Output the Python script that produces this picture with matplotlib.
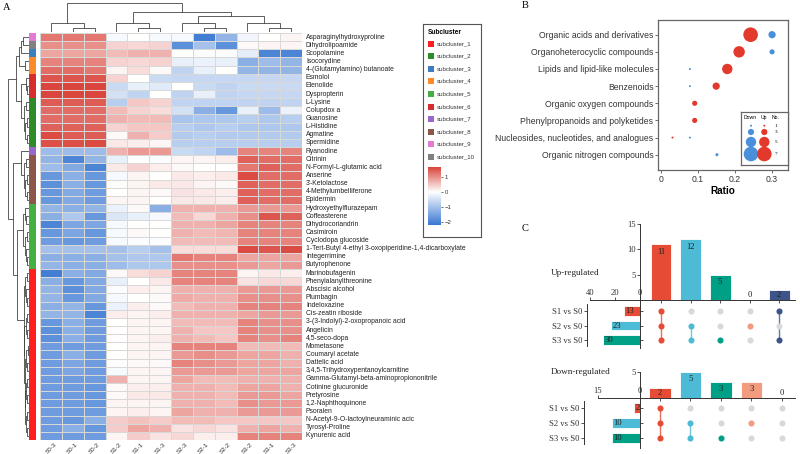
import numpy as np
import matplotlib
matplotlib.use("Agg")
import matplotlib.pyplot as plt
from matplotlib.colors import LinearSegmentedColormap, ListedColormap, Normalize
from matplotlib.patches import Rectangle

plt.rcParams['font.family'] = ['Liberation Sans', 'DejaVu Sans']
SERIF = ['Liberation Serif', 'DejaVu Serif']

# ---------------- Panel A data ----------------
samples = ['S0-3', 'S0-1', 'S0-2', 'S1-2', 'S1-1', 'S1-3',
           'S2-3', 'S2-1', 'S2-2', 'S3-2', 'S3-1', 'S3-3']
metabolites = [
    'Asparaginylhydroxyproline', 'Dihydrolipoamide', 'Scopolamine', 'Isocorydine',
    '4-(Glutamylamino) butanoate', 'Esmolol', 'Elenolide', 'Dyspropterin', 'L-Lysine',
    'Colupdox a', 'Guanosine', 'L-Histidine', 'Agmatine', 'Spermidine', 'Ryanodine',
    'Citrinin', 'N-Formyl-L-glutamic acid', 'Anserine', "3'-Ketolactose",
    '4-Methylumbelliferone', 'Epidermin', 'Hydroxyethylflurazepam', 'Coffeasterene',
    'Dihydrocoriandrin', 'Casimiroin', 'Cyclodopa glucoside',
    '1-Tert-Butyl 4-ethyl 3-oxopiperidine-1,4-dicarboxylate', 'Integerrimine',
    'Butyrophenone', 'Marinobufagenin', 'Phenylalanylthreonine', 'Abscisic alcohol',
    'Plumbagin', 'Indeloxazine', 'Cis-zeatin riboside',
    '3-(3-Indolyl)-2-oxopropanoic acid', 'Angelicin', '4,5-seco-dopa', 'Mometasone',
    'Coumaryl acetate', 'Dattelic acid', '3,4,5-Trihydroxypentanoylcarnitine',
    'Gamma-Glutamyl-beta-aminopropiononitrile', 'Cotinine glucuronide', 'Pretyrosine',
    '1,2-Naphthoquinone', 'Psoralen', 'N-Acetyl-9-O-lactoylneuraminic acic',
    'Tyrosyl-Proline', 'Kynurenic acid']

zscores = [
    [1.2, 1.2, 1.2, -0.1, 0.0, -0.1, -0.1, -2.1, -1.2, -0.15, 0.0, 0.1],
    [1.0, 1.0, 1.0, 0.4, 0.35, 0.4, -1.8, -1.0, -1.8, 0.05, 0.1, 0.1],
    [0.8, 0.8, 0.8, 0.6, 0.7, 0.7, 0.0, -0.05, -0.05, -0.3, -2.0, -2.0],
    [1.1, 1.1, 1.1, 0.4, 0.35, 0.4, -0.25, -0.2, -0.25, -1.3, -1.1, -1.2],
    [1.3, 1.3, 1.2, 0.1, 0.3, 0.05, -0.7, -0.25, 0.0, -1.2, -1.2, -1.2],
    [1.5, 1.5, 1.5, 0.4, 0.0, -0.6, -0.65, -0.65, -0.65, -0.65, -0.65, -0.65],
    [1.65, 1.65, 1.65, -0.6, -0.25, -0.35, 0.0, -0.6, -0.7, -0.6, -0.6, -0.6],
    [1.65, 1.65, 1.65, -0.5, -0.7, 0.0, -0.7, -0.25, -0.7, -0.65, -0.65, -0.65],
    [1.45, 1.45, 1.45, -0.8, 0.5, 0.4, -0.7, -0.7, -0.7, -0.7, -0.7, -0.7],
    [1.3, 1.3, 1.3, 0.6, 0.4, 0.3, -0.5, -1.3, -1.7, -0.25, -1.1, -0.2],
    [1.3, 1.3, 1.3, 0.7, 0.6, 0.6, -0.95, -0.9, -0.9, -0.8, -0.9, -0.8],
    [1.4, 1.4, 1.4, 0.4, 0.5, 0.5, -0.8, -0.9, -0.8, -0.9, -0.9, -0.9],
    [1.6, 1.45, 1.45, 0.05, 0.7, 0.45, -0.85, -0.8, -0.85, -0.85, -0.85, -0.85],
    [1.55, 1.55, 1.6, 0.2, 0.15, 0.1, -0.8, -0.8, -0.8, -0.8, -0.8, -0.8],
    [-1.1, -1.1, -1.1, 0.7, 0.9, 0.9, -0.6, -0.7, -1.1, 1.1, 1.1, 1.1],
    [-1.2, -2.0, -1.2, -0.25, 0.0, -0.05, 0.1, 0.1, 0.15, 1.4, 1.3, 1.3],
    [-1.1, -1.4, -2.0, 0.2, 0.4, 0.15, 0.05, 0.0, 0.0, 1.2, 1.4, 1.3],
    [-1.7, -1.3, -1.7, -0.1, 0.1, 0.0, 0.2, 0.15, 0.2, 1.6, 1.3, 1.3],
    [-1.8, -1.3, -1.7, 0.03, 0.1, 0.2, 0.2, 0.1, 0.05, 1.4, 1.3, 1.3],
    [-1.7, -1.4, -1.6, 0.0, 0.1, 0.05, 0.25, 0.2, 0.15, 1.4, 1.3, 1.3],
    [-1.7, -1.4, -1.6, 0.1, 0.1, 0.0, 0.2, 0.2, 0.15, 1.4, 1.3, 1.3],
    [-1.2, -1.3, -1.2, -0.2, 0.05, -1.3, 0.7, 0.7, 0.7, 0.9, 0.9, 0.9],
    [-1.3, -0.9, -1.7, -0.4, -0.25, -0.1, 0.6, 0.35, 0.7, 1.0, 1.5, 1.4],
    [-2.0, -1.45, -1.45, -0.1, 0.0, 0.0, 0.7, 0.7, 0.8, 1.1, 1.1, 1.1],
    [-1.7, -1.45, -1.7, -0.1, 0.05, 0.0, 0.7, 0.6, 0.65, 1.1, 1.1, 1.1],
    [-1.6, -1.7, -1.6, -0.1, -0.05, -0.05, 0.6, 0.6, 0.6, 1.1, 1.1, 1.1],
    [-1.0, -1.0, -1.0, -1.0, -0.8, -1.0, 0.3, 0.3, 0.3, 1.6, 1.5, 1.6],
    [-1.3, -1.3, -1.3, -1.0, -0.9, -0.9, 1.2, 1.1, 1.1, 0.8, 0.8, 0.8],
    [-1.2, -1.3, -1.3, -1.1, -0.9, -0.9, 1.0, 1.0, 1.0, 0.9, 0.8, 0.9],
    [-2.1, -1.3, -1.4, 0.05, 0.3, 0.4, 1.1, 1.1, 1.1, 0.1, 0.2, 0.15],
    [-1.3, -1.7, -1.4, -0.25, 0.0, 0.2, 1.1, 1.1, 1.1, 0.25, 0.35, 0.35],
    [-1.2, -1.8, -1.4, -0.05, 0.15, 0.1, 0.7, 0.7, 0.7, 0.9, 0.9, 0.9],
    [-1.2, -1.7, -1.4, -0.1, 0.0, 0.05, 0.75, 0.7, 0.7, 1.0, 1.0, 1.0],
    [-1.3, -1.2, -1.7, -0.2, 0.15, 0.05, 0.6, 0.7, 0.7, 1.1, 1.1, 1.1],
    [-1.2, -1.2, -2.0, 0.15, 0.1, 0.15, 0.7, 0.7, 0.7, 0.8, 0.9, 0.9],
    [-1.7, -1.3, -1.6, 0.0, 0.1, 0.1, 0.6, 0.6, 0.6, 1.1, 1.0, 1.0],
    [-1.8, -1.3, -1.6, 0.02, 0.1, 0.1, 0.7, 0.5, 0.5, 1.1, 1.0, 1.0],
    [-1.8, -1.3, -1.6, 0.02, 0.1, 0.15, 0.7, 0.6, 0.5, 1.1, 1.0, 1.1],
    [-1.6, -1.6, -1.6, 0.0, 0.1, 0.1, 1.1, 1.1, 1.1, 0.6, 0.6, 0.6],
    [-1.6, -1.3, -1.6, 0.0, 0.1, 0.1, 0.9, 1.0, 0.9, 0.8, 0.8, 0.7],
    [-1.6, -1.45, -1.6, -0.02, 0.05, 0.05, 1.1, 1.0, 0.9, 0.8, 0.8, 0.7],
    [-1.6, -1.45, -1.6, -0.1, 0.1, 0.1, 0.9, 0.9, 0.9, 0.8, 0.8, 0.8],
    [-1.6, -1.6, -1.6, 0.7, 0.1, 0.1, 0.8, 0.6, 0.6, 0.7, 0.7, 0.7],
    [-1.6, -1.6, -1.7, 0.05, 0.15, 0.15, 0.7, 0.7, 0.6, 0.8, 0.8, 0.7],
    [-1.6, -1.6, -1.7, 0.05, 0.2, 0.2, 0.7, 0.7, 0.6, 0.9, 0.9, 0.8],
    [-1.6, -1.6, -1.7, 0.1, 0.1, 0.1, 0.7, 0.7, 0.6, 1.0, 0.9, 0.9],
    [-1.6, -1.6, -1.6, 0.1, 0.15, 0.1, 0.8, 0.7, 0.7, 0.9, 0.9, 0.9],
    [-1.6, -1.7, -1.3, 0.45, 0.55, 0.45, 0.6, 0.6, 0.5, 0.5, 0.5, 0.5],
    [-1.6, -1.3, -1.7, 0.45, 0.8, 0.7, 0.25, 0.35, 0.25, 0.7, 0.8, 0.7],
    [-1.6, -1.6, -1.6, 0.1, 0.45, 0.25, 0.35, 0.15, 0.15, 1.1, 1.1, 1.1],
]

row_subcluster = [9, 10, 3, 4, 4, 6, 6, 6, 2, 2, 2, 2, 2, 2, 7,
                  8, 8, 8, 8, 8, 8, 5, 5, 5, 5, 5, 5, 5, 5] + [1] * 21
subcluster_names = ['subcluster_%d' % i for i in range(1, 11)]
subcluster_colors = ['#FF1F1F', '#2D8B2A', '#3D7EC0', '#FF8A2A', '#44B044',
                     '#D62D2D', '#9966CC', '#8C564B', '#E37BD2', '#808080']

# dendrograms: (height, left, right), leaves = display index
col_tree = (29, (9, 0, (4, 1, 2)),
            (20, (9, 3, (4, 4, 5)),
             (16, (9, 6, (4, 7, 8)), (9, 9, (4, 10, 11)))))
row_tree = (21,
            (13,
             (10, (8, (6, 0, 1), 2), (4, 3, 4)),
             (8, (3.5, 5, (2.5, 6, 7)),
              (5, (3, 8, 9), (4, (2.5, 10, 11), (2, 12, 13))))),
            (16,
             (8, 14, (5, (3, 15, 16), (4, (2, 17, 18), (2.5, 19, 20)))),
             (12,
              (6, (4, 21, (3, 22, 23)), (4.5, (2.5, 24, 25), (3.5, 26, (2, 27, 28)))),
              (5.5, (4, (2.5, 29, 30), (3, 31, (2, 32, 33))),
               (5, (3.5, (2, 34, 35), (2.5, 36, 37)),
                (4.5, (3, (1.5, 38, 39), (2, 40, 41)),
                 (4, (3, (2, 42, 43), (2.5, 44, 45)),
                  (3.5, (2, 46, 47), (2.5, 48, 49)))))))))

# ---------------- Panel B data ----------------
classes = ['Organic acids and derivatives', 'Organoheterocyclic compounds',
           'Lipids and lipid-like molecules', 'Benzenoids', 'Organic oxygen compounds',
           'Phenylpropanoids and polyketides', 'Nucleosides, nucleotides, and analogues',
           'Organic nitrogen compounds']
up_ratio = [0.242, 0.211, 0.179, 0.149, 0.091, 0.091, 0.031, np.nan]
up_no = [7, 5.5, 5, 3.5, 2.5, 2.5, 1, 0]
down_ratio = [0.30, 0.30, 0.078, 0.078, np.nan, np.nan, 0.078, 0.151]
down_no = [3.5, 2.5, 1, 1, 0, 0, 1, 1.5]
legend_no = [1, 3, 5, 7]

# ---------------- Panel C data ----------------
set_names = ['S1 vs S0', 'S2 vs S0', 'S3 vs S0']
up_set_sizes = [13, 23, 30]
up_inter_sizes = [11, 12, 5, 0, 2]
up_inter_members = [[0, 1, 2], [1, 2], [2], [1], [0, 2]]
down_set_sizes = [2, 10, 10]
down_inter_sizes = [2, 5, 3, 3, 0]
down_inter_members = [[0, 1, 2], [1, 2], [2], [1], []]

NPG = {'red': '#E64B35', 'cyan': '#4DBBD5', 'green': '#00A087',
       'salmon': '#F39B7F', 'navy': '#3C5488'}
set_colors = [NPG['red'], NPG['cyan'], NPG['green']]
inter_colors = [NPG['red'], NPG['cyan'], NPG['green'], NPG['salmon'], NPG['navy']]

# ---------------- figure ----------------
W, H = 800, 454
fig = plt.figure(figsize=(W / 100, H / 100), dpi=100)


def pax(x0, y0, x1, y1):
    return fig.add_axes([x0 / W, 1 - y1 / H, (x1 - x0) / W, (y1 - y0) / H])


def draw_tree(ax, node, orient, color='#444444', lw=0.6):
    if isinstance(node, int):
        return node + 0.5, 0.0
    h, L, R = node
    pl, hl = draw_tree(ax, L, orient, color, lw)
    pr, hr = draw_tree(ax, R, orient, color, lw)
    if orient == 'row':
        ax.plot([hl, h, h, hr], [pl, pl, pr, pr], color=color, lw=lw,
                solid_joinstyle='miter')
    else:
        ax.plot([pl, pl, pr, pr], [hl, h, h, hr], color=color, lw=lw,
                solid_joinstyle='miter')
    return (pl + pr) / 2, h


# ---- Panel A ----
data = np.array(zscores)
nr, nc = data.shape
vmin, vmax = -2.2, 1.65
f0 = -vmin / (vmax - vmin)
cmap = LinearSegmentedColormap.from_list(
    'bwr_ph', [(0, '#3A78D2'), (f0, '#FFFFFF'), (1, '#DA463D')])
norm = Normalize(vmin, vmax)

axH = pax(40, 33, 302, 440)
axH.pcolormesh(np.arange(nc + 1), np.arange(nr + 1), data, cmap=cmap, norm=norm,
               edgecolors='#d8d8d8', linewidth=0.5)
axH.set_xlim(0, nc)
axH.set_ylim(nr, 0)
axH.axis('off')
for i, name in enumerate(metabolites):
    axH.text(nc + 0.18, i + 0.5, name, ha='left', va='center', fontsize=4.9,
             color='#222222')
for j, s in enumerate(samples):
    axH.text(j + 0.5, nr + 0.25, s, rotation=45, ha='center', va='top',
             fontsize=4.5, color='#333333')

axRD = pax(7, 33, 29, 440)
draw_tree(axRD, row_tree, 'row')
axRD.set_xlim(22, 0)
axRD.set_ylim(nr, 0)
axRD.axis('off')

axCD = pax(40, 3, 302, 32)
draw_tree(axCD, col_tree, 'col')
axCD.set_xlim(0, nc)
axCD.set_ylim(0, 29.5)
axCD.axis('off')

axAn = pax(29, 33, 36, 440)
axAn.pcolormesh([0, 1], np.arange(nr + 1),
                np.array(row_subcluster).reshape(-1, 1) - 1,
                cmap=ListedColormap(subcluster_colors), vmin=-0.5, vmax=9.5)
axAn.set_ylim(nr, 0)
axAn.axis('off')

fig.text(3 / W, 1 - 9.5 / H, 'A', fontsize=7.5, family=SERIF, va='baseline')

# legend box
axLg = pax(423, 24, 481, 237)
axLg.set_xlim(0, 58)
axLg.set_ylim(213, 0)
axLg.set_xticks([])
axLg.set_yticks([])
for sp in axLg.spines.values():
    sp.set_color('#555555')
    sp.set_linewidth(0.8)
axLg.text(5, 8, 'Subcluster', fontsize=4.7, fontweight='bold', va='center')
for k, (nm, c) in enumerate(zip(subcluster_names, subcluster_colors)):
    yy = 19.5 + 12.6 * k
    axLg.add_patch(Rectangle((5, yy - 3), 6, 6, color=c, lw=0))
    axLg.text(14, yy, nm, fontsize=4.4, va='center', color='#333333')

axCb = pax(428, 167, 441, 225)
grad = np.linspace(vmin, vmax, 200).reshape(-1, 1)
axCb.imshow(grad, cmap=cmap, norm=norm, aspect='auto', origin='lower',
            extent=[0, 1, vmin, vmax])
axCb.set_xticks([])
axCb.yaxis.tick_right()
axCb.set_yticks([-2, -1, 0, 1])
axCb.tick_params(axis='y', length=1.5, width=0.5, labelsize=4.3, pad=1,
                 colors='#333333')
for sp in axCb.spines.values():
    sp.set_visible(False)

# ---- Panel B ----
def dot_size(n):
    d_px = 2.0 + 2.1 * (np.asarray(n, dtype=float) - 1)
    return (d_px * 0.72) ** 2


RED_B, BLUE_B = '#E3392D', '#4A8FDB'
axB = pax(658.3, 19.7, 788, 169.7)
ypos = np.arange(len(classes))
m = ~np.isnan(np.array(up_ratio))
axB.scatter(np.array(up_ratio)[m], ypos[m], s=dot_size(np.array(up_no)[m]),
            color=RED_B, lw=0, zorder=3)
m = ~np.isnan(np.array(down_ratio))
axB.scatter(np.array(down_ratio)[m], ypos[m], s=dot_size(np.array(down_no)[m]),
            color=BLUE_B, lw=0, zorder=3)
axB.set_ylim(len(classes) - 1 + 0.875, -0.875)
axB.set_xlim(-0.0073, 0.343)
axB.set_yticks(ypos)
axB.set_yticklabels(classes)
axB.set_xticks([0, 0.1, 0.2, 0.3])
axB.set_xticklabels(['0', '0.1', '0.2', '0.3'])
axB.tick_params(axis='y', labelsize=6.2, length=2, width=0.6, pad=1.5,
                colors='#555555', labelcolor='#333333')
axB.tick_params(axis='x', labelsize=6.2, length=2, width=0.6, pad=1.5,
                colors='#555555', labelcolor='#333333')
axB.set_xlabel('Ratio', fontsize=7.2, fontweight='bold', labelpad=1.5)
for sp in axB.spines.values():
    sp.set_color('#666666')
    sp.set_linewidth(0.9)

axBL = pax(741, 112.3, 787.7, 164.7)
axBL.set_xlim(0, 46.7)
axBL.set_ylim(52.4, 0)
axBL.set_xticks([])
axBL.set_yticks([])
for sp in axBL.spines.values():
    sp.set_color('#666666')
    sp.set_linewidth(0.9)
axBL.text(9.5, 5, 'Down', fontsize=3.7, ha='center', va='center')
axBL.text(23.3, 5, 'Up', fontsize=3.7, ha='center', va='center')
axBL.text(35, 5, 'No.', fontsize=3.7, ha='center', va='center')
leg_y = [13.4, 19.7, 29.7, 41.7]
axBL.scatter([10] * 4, leg_y, s=dot_size(legend_no), color=BLUE_B, lw=0)
axBL.scatter([23.3] * 4, leg_y, s=dot_size(legend_no), color=RED_B, lw=0)
for yy, n in zip(leg_y, legend_no):
    axBL.text(35, yy, str(n), fontsize=3.8, ha='center', va='center',
              family=SERIF)

fig.text(522 / W, 1 - 8.5 / H, 'B', fontsize=7.5, family=SERIF, va='baseline')
fig.text(522 / W, 1 - 231 / H, 'C', fontsize=7.5, family=SERIF, va='baseline')


# ---- Panel C ----
def upset(bar_box, mat_box, set_box, xlim, ylim_bar, ylim_mat, set_xlim,
          inter_sizes, inter_members, set_sizes, yticks_bar, set_ticks,
          label_shift, left_out, title, title_y):
    fs = 6.2
    axb = pax(*bar_box)
    pos = np.arange(len(inter_sizes))
    axb.bar(pos, inter_sizes, width=0.71, color=inter_colors,
            edgecolor='white', linewidth=0.6, zorder=2)
    for p, v in zip(pos, inter_sizes):
        axb.text(p, max(v - label_shift, 1.0), str(v), ha='center', va='center',
                 fontsize=fs, family=SERIF, color='#222222', zorder=3)
    axb.set_xlim(*xlim)
    axb.set_ylim(*ylim_bar)
    axb.spines['top'].set_visible(False)
    axb.spines['right'].set_visible(False)
    axb.spines['left'].set_bounds(0, yticks_bar[-1])
    for sp in ('left', 'bottom'):
        axb.spines[sp].set_color('#333333')
        axb.spines[sp].set_linewidth(0.7)
    axb.set_yticks(yticks_bar)
    axb.set_xticks(pos)
    axb.set_xticklabels([])
    axb.tick_params(axis='both', length=2, width=0.6, labelsize=fs, pad=1,
                    colors='#333333')
    for t in axb.get_yticklabels():
        t.set_family(SERIF)

    axm = pax(*mat_box)
    axm.set_xlim(*xlim)
    axm.set_ylim(*ylim_mat)
    axm.axis('off')
    for p, members, col in zip(pos, inter_members, inter_colors):
        if len(members) > 1:
            axm.plot([p, p], [min(members), max(members)], color=col, lw=1.0,
                     alpha=0.8, zorder=1)
        for r in range(len(set_sizes)):
            c = col if r in members else '#D9D9D9'
            axm.plot(p, r, 'o', ms=4.4, color=c, mec='none', zorder=2)

    axs = pax(*set_box)
    rows = np.arange(len(set_sizes))
    axs.barh(rows, set_sizes, height=0.66, color=set_colors,
             edgecolor='white', linewidth=0.6)
    for r, v in zip(rows, set_sizes):
        axs.annotate(str(v), (v, r), xytext=(1.2, 0), textcoords='offset points',
                     ha='left', va='center', fontsize=fs, family=SERIF,
                     color='#222222')
    axs.set_xlim(*set_xlim)
    axs.set_ylim(*ylim_mat)
    axs.xaxis.tick_top()
    axs.set_xticks(set_ticks)
    axs.spines['bottom'].set_visible(False)
    axs.spines['left'].set_position(('outward', left_out))
    axs.spines['left'].set_bounds(-0.45, 2.4)
    for sp in ('left', 'right', 'top'):
        axs.spines[sp].set_color('#333333')
        axs.spines[sp].set_linewidth(0.7)
    axs.set_yticks(rows)
    axs.set_yticklabels(set_names)
    axs.tick_params(axis='y', left=True, right=True, length=2, width=0.6,
                    labelsize=fs, pad=1.5, colors='#333333')
    axs.tick_params(axis='x', length=2, width=0.6, labelsize=fs, pad=0.5,
                    colors='#333333')
    for t in axs.get_yticklabels() + axs.get_xticklabels():
        t.set_family(SERIF)
    fig.text(551 / W, 1 - title_y / H, title, fontsize=6.6, family=SERIF,
             va='baseline', color='#222222')


upset((640, 223, 795, 300), (640, 300, 795, 348), (590, 300, 640, 348),
      (-0.712, 4.54), (0, 15.2), (2.55, -0.76), (40, 0),
      up_inter_sizes, up_inter_members, up_set_sizes, [5, 10, 15], [40, 20, 0],
      1.5, 2, 'Up-regulated', 275)
upset((640, 372, 795, 398), (640, 398, 795, 448), (598, 398, 640, 448),
      (-0.656, 4.43), (0, 5.0), (2.67, -0.67), (15, 0),
      down_inter_sizes, down_inter_members, down_set_sizes, [5], [15, 0],
      1.35, 10, 'Down-regulated', 374)

fig.savefig('out.png', dpi=100)
